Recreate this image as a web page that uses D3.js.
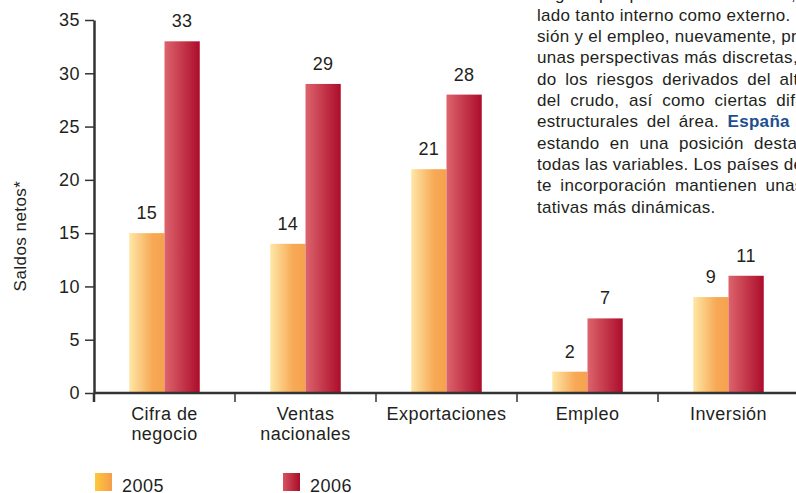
<!DOCTYPE html>
<html>
<head>
<meta charset="utf-8">
<script src="https://cdn.jsdelivr.net/npm/d3@7"></script>
<style>
  body { margin: 0; background: #fff; }
  svg { display: block; font-family: "Liberation Sans", Arial, sans-serif; letter-spacing: 0.45px; }
  .para { letter-spacing: 0.3px; }
</style>
</head>
<body>
<div id="chart"></div>
<script>
const categories = ["Cifra de\nnegocio", "Ventas\nnacionales", "Exportaciones", "Empleo", "Inversión"];
const years = ["2005", "2006"];
const values2005 = [15, 14, 21, 2, 9];
const values2006 = [33, 29, 28, 7, 11];
const yTicks = [0, 5, 10, 15, 20, 25, 30, 35];
const paragraph = [
  ["llegado por parte de la demanda, tanto por el"],
  ["lado tanto interno como externo. Por su parte, la inver-"],
  ["sión y el empleo, nuevamente, presentan todavía"],
  ["unas perspectivas más discretas, habiéndose señala-"],
  ["do los riesgos derivados del alto precio"],
  ["del crudo, así como ciertas dificultades"],
  ["estructurales del área. ", "España", " continúa"],
  ["estando en una posición destacada en"],
  ["todas las variables. Los países de más recien-"],
  ["te incorporación mantienen unas expec-"],
  ["tativas más dinámicas."]
];

(function() {
  const width = 796, height = 493;
  const fs = "18px";
  const svg = d3.select("#chart").append("svg")
    .attr("width", width)
    .attr("height", height);

  const defs = svg.append("defs");
  function grad(id, stops) {
    const g = defs.append("linearGradient").attr("id", id)
      .attr("x1", "0%").attr("x2", "100%").attr("y1", "0%").attr("y2", "0%");
    stops.forEach(s => g.append("stop").attr("offset", s[0]).attr("stop-color", s[1]));
  }
  grad("g2005", [["0%", "#fee7a6"], ["65%", "#f7a955"], ["100%", "#f6a24e"]]);
  grad("g2006", [["0%", "#dc646c"], ["100%", "#ad0c2b"]]);
  grad("l2005", [["0%", "#fdc83a"], ["100%", "#f59c4c"]]);
  grad("l2006", [["0%", "#d9525e"], ["100%", "#a70d29"]]);

  const x = d3.scaleBand().domain(categories).range([94, 799]);
  const x1 = d3.scaleBand().domain(years).range([0, x.bandwidth()]).paddingOuter(1);
  const y = d3.scaleLinear().domain([0, 35]).range([393, 20]);

  // text column top right, runs off the page edge (justified)
  const colLeft = 537, colWidth = 328, lineH = 21.3, firstBase = -0.5;
  paragraph.forEach((parts, i) => {
    const t = svg.append("text")
      .attr("class", "para")
      .attr("x", colLeft)
      .attr("y", firstBase + i * lineH)
      .attr("font-size", "17px")
      .attr("fill", "#231f20")
      .attr("xml:space", "preserve");
    parts.forEach(p => {
      const ts = t.append("tspan").text(p);
      if (p === "España") ts.attr("font-weight", "bold").attr("fill", "#1d4f91");
    });
    if (i < paragraph.length - 1) {
      const full = parts.join("");
      const spaces = (full.match(/ /g) || []).length;
      const len = t.node().getComputedTextLength();
      if (spaces > 0 && len < colWidth) {
        t.attr("word-spacing", ((colWidth - len) / spaces) + "px");
      }
    }
  });

  // bars
  const groups = svg.append("g").selectAll("g")
    .data(categories)
    .join("g")
    .attr("transform", d => `translate(${x(d)},0)`);

  const series = [values2005, values2006];
  groups.selectAll("rect")
    .data((d, i) => years.map((yr, k) => ({ yr, v: series[k][i] })))
    .join("rect")
    .attr("x", d => x1(d.yr))
    .attr("y", d => y(d.v))
    .attr("width", x1.bandwidth())
    .attr("height", d => y(0) - y(d.v))
    .attr("fill", d => `url(#g${d.yr})`);

  groups.selectAll("text.val")
    .data((d, i) => years.map((yr, k) => ({ yr, v: series[k][i] })))
    .join("text")
    .attr("class", "val")
    .attr("x", d => x1(d.yr) + x1.bandwidth() / 2)
    .attr("y", d => y(d.v) - 14)
    .attr("text-anchor", "middle")
    .attr("font-size", fs)
    .attr("fill", "#231f20")
    .text(d => d.v);

  // y axis
  const yAxis = svg.append("g")
    .attr("transform", "translate(94,0)")
    .call(d3.axisLeft(y).tickValues(yTicks).tickSize(9).tickPadding(5).tickSizeOuter(0));
  yAxis.select(".domain").attr("stroke", "#333").attr("stroke-width", 2.5);
  yAxis.selectAll(".tick line").attr("stroke", "#333").attr("stroke-width", 1.5);
  yAxis.selectAll(".tick text")
    .attr("font-size", fs)
    .attr("font-family", "Liberation Sans, Arial, sans-serif")
    .attr("fill", "#231f20");

  // x axis
  svg.append("line")
    .attr("x1", x.range()[0]).attr("x2", width)
    .attr("y1", y(0)).attr("y2", y(0))
    .attr("stroke", "#333").attr("stroke-width", 2.5);
  svg.selectAll(".xtick")
    .data(categories)
    .join("line")
    .attr("class", "xtick")
    .attr("x1", d => x(d)).attr("x2", d => x(d))
    .attr("y1", y(0)).attr("y2", y(0) + 9)
    .attr("stroke", "#333")
    .attr("stroke-width", d => d === categories[0] ? 2.5 : 1.5);

  svg.selectAll(".xlabel")
    .data(categories)
    .join("text")
    .attr("class", "xlabel")
    .attr("text-anchor", "middle")
    .attr("font-size", fs)
    .attr("fill", "#231f20")
    .each(function(d) {
      const t = d3.select(this);
      d.split("\n").forEach((line, i) => {
        t.append("tspan")
          .attr("x", x(d) + x.bandwidth() / 2)
          .attr("y", 420 + i * 19.5)
          .text(line);
      });
    });

  // y title
  svg.append("text")
    .attr("transform", "translate(26,236) rotate(-90)")
    .attr("text-anchor", "middle")
    .attr("font-size", "17px")
    .attr("fill", "#231f20")
    .text("Saldos netos*");

  // legend
  const legendX = d3.scaleOrdinal().domain(years).range([95, 283]);
  const lg = svg.selectAll(".legend")
    .data(years)
    .join("g")
    .attr("class", "legend")
    .attr("transform", d => `translate(${legendX(d)},473)`);
  lg.append("rect")
    .attr("width", 17).attr("height", 18)
    .attr("fill", d => `url(#l${d})`);
  lg.append("text")
    .attr("x", 27).attr("y", 19)
    .attr("font-size", fs)
    .attr("fill", "#231f20")
    .text(d => d);
})();
</script>
</body>
</html>
